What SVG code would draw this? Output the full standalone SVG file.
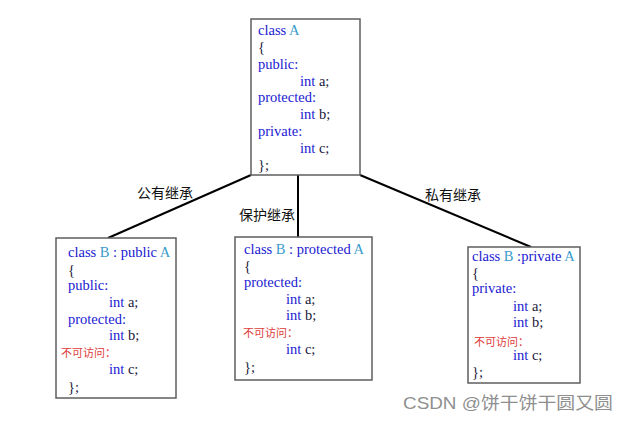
<svg xmlns="http://www.w3.org/2000/svg" width="628" height="432" viewBox="0 0 628 432">
<style>
.box{fill:#fff;stroke:#5e5e5e;stroke-width:1.5}
.code{font-family:"Liberation Serif",serif;font-size:14.5px;fill:#1a1ad2}
.t{fill:#3a9ccc}
.d{fill:#1a1a3a}
.na{font-family:"Liberation Sans","Noto Sans CJK SC",sans-serif;font-size:11px;fill:#e03c3c}
.lbl{font-family:"Liberation Sans","Noto Sans CJK SC",sans-serif;font-size:14px;fill:#111}
.wm{font-family:"Liberation Sans","Noto Sans CJK SC",sans-serif;font-size:17px;fill:#8f8f8f}
.edge{stroke:#000;stroke-width:2;fill:none}
</style>
<rect width="628" height="432" fill="#fff"/>
<g id="connectors">
<line class="edge" x1="251" y1="175" x2="108" y2="238"/>
<line class="edge" x1="298" y1="175" x2="298" y2="237"/>
<line class="edge" x1="360" y1="175" x2="531" y2="247"/>
<text class="lbl" x="137" y="198">公有继承</text>
<text class="lbl" x="239" y="220">保护继承</text>
<text class="lbl" x="425" y="200">私有继承</text>
</g>
<g id="classA">
<rect class="box" x="251" y="19" width="109" height="156"/>
<text class="code" x="258" y="35">class <tspan class="t">A</tspan></text>
<text class="code d" x="258" y="52">{</text>
<text class="code" x="258" y="69">public:</text>
<text class="code" x="300" y="86">int <tspan class="d">a;</tspan></text>
<text class="code" x="258" y="102">protected:</text>
<text class="code" x="300" y="119">int <tspan class="d">b;</tspan></text>
<text class="code" x="258" y="136">private:</text>
<text class="code" x="300" y="153">int <tspan class="d">c;</tspan></text>
<text class="code d" x="258" y="170">};</text>
</g>
<g id="classB_public">
<rect class="box" x="56" y="238" width="120" height="160"/>
<text class="code" x="68" y="257">class <tspan class="t">B</tspan> : public <tspan class="t">A</tspan></text>
<text class="code d" x="68" y="275">{</text>
<text class="code" x="68" y="290">public:</text>
<text class="code" x="109" y="307">int <tspan class="d">a;</tspan></text>
<text class="code" x="68" y="324">protected:</text>
<text class="code" x="109" y="340">int <tspan class="d">b;</tspan></text>
<text class="na" x="61" y="357">不可访问：</text>
<text class="code" x="109" y="374">int <tspan class="d">c;</tspan></text>
<text class="code d" x="68" y="392">};</text>
</g>
<g id="classB_protected">
<rect class="box" x="235" y="237" width="137" height="143"/>
<text class="code" x="244" y="254">class <tspan class="t">B</tspan> : protected <tspan class="t">A</tspan></text>
<text class="code d" x="244" y="271">{</text>
<text class="code" x="244" y="287">protected:</text>
<text class="code" x="286" y="304">int <tspan class="d">a;</tspan></text>
<text class="code" x="286" y="320">int <tspan class="d">b;</tspan></text>
<text class="na" x="243" y="337">不可访问：</text>
<text class="code" x="286" y="354">int <tspan class="d">c;</tspan></text>
<text class="code d" x="244" y="372">};</text>
</g>
<g id="classB_private">
<rect class="box" x="468" y="247" width="112" height="136"/>
<text class="code" x="472" y="261">class <tspan class="t">B</tspan> :private <tspan class="t">A</tspan></text>
<text class="code d" x="472" y="278">{</text>
<text class="code" x="472" y="293">private:</text>
<text class="code" x="513" y="311">int <tspan class="d">a;</tspan></text>
<text class="code" x="513" y="327">int <tspan class="d">b;</tspan></text>
<text class="na" x="474" y="346">不可访问：</text>
<text class="code" x="513" y="360">int <tspan class="d">c;</tspan></text>
<text class="code d" x="472" y="377">};</text>
</g>
<text class="wm" x="403" y="409" textLength="210" lengthAdjust="spacingAndGlyphs">CSDN @饼干饼干圆又圆</text>
</svg>
